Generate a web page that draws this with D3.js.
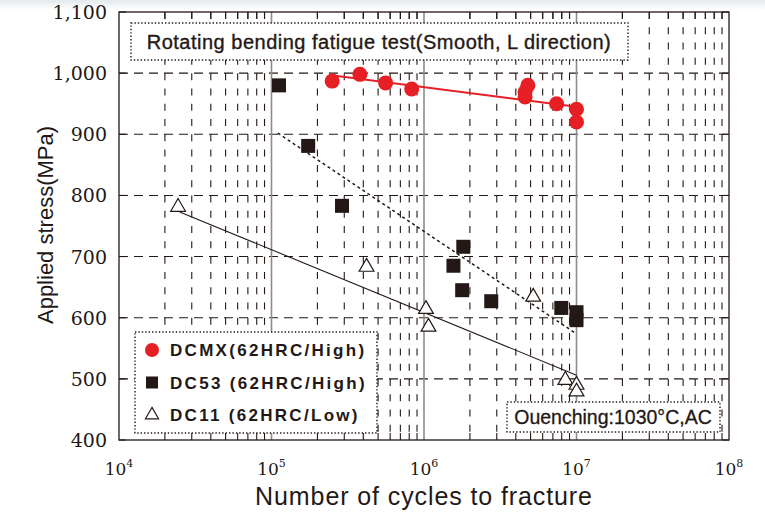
<!DOCTYPE html>
<html>
<head>
<meta charset="utf-8">
<script src="https://cdn.jsdelivr.net/npm/d3@7"></script>
<style>
  body { margin: 0; background: #fff; }
  svg { display: block; }
</style>
</head>
<body>
<div id="chart"></div>
<script>
// DCMX (red circles)
const dcmxCycles = [2.5e5, 3.8e5, 5.6e5, 8.3e5, 4.8e6, 4.6e6, 4.6e6, 7.4e6, 1e7, 1e7];
const dcmxStress = [987, 998, 984, 974, 980, 969, 961, 950, 941, 920];
// DC53 (black squares)
const dc53Cycles = [1.12e5, 1.74e5, 2.9e5, 1.81e6, 1.56e6, 1.78e6, 2.76e6, 7.95e6, 1e7, 1e7];
const dc53Stress = [980, 881, 783, 716, 685, 645, 627, 616, 609, 596];
// DC11 (open triangles)
const dc11Cycles = [2.44e4, 4.2e5, 1.03e6, 1.07e6, 5.2e6, 8.45e6, 1e7, 1e7];
const dc11Stress = [781, 683, 614, 585, 634, 498, 490, 479];

// fitted S-N lines, [cycles, stress] end points
const dcmxFit = [[2.4e5, 997], [1e7, 945]];
const dc53Fit = [[1.1e5, 902], [9.8e6, 575]];
const dc11Fit = [[2.5e4, 773], [1e7, 506]];

const yTicks = [400, 500, 600, 700, 800, 900, 1000, 1100];
const xDecades = [1e4, 1e5, 1e6, 1e7, 1e8];
const xExponents = ['4', '5', '6', '7', '8'];

const legendLabels = ['DCMX(62HRC/High)', 'DC53 (62HRC/High)', 'DC11 (62HRC/Low)'];
const titleText = 'Rotating bending fatigue test(Smooth, L direction)';
const noteText = 'Ouenching:1030°C,AC';

// style configs
const width = 765;
const height = 516;
const margin = { top: 12, right: 36, bottom: 76, left: 119 };
const ink = '#231815';
const red = '#e61f25';
const sans = '"Liberation Sans", Arial, sans-serif';
const serif = '"DejaVu Serif", serif';

const x = d3.scaleLog().domain([1e4, 1e8]).range([margin.left, width - margin.right]);
const y = d3.scaleLinear().domain([400, 1100]).range([height - margin.bottom, margin.top]);

// 2..9 inside every decade
const minors = xDecades.slice(0, -1).flatMap(d => d3.range(2, 10).map(k => d * k));

const svg = d3.select('#chart').append('svg')
  .attr('width', width)
  .attr('height', height);

// faint grey band at the very top of the scan
const grad = svg.append('defs').append('linearGradient')
  .attr('id', 'topband').attr('x1', 0).attr('x2', 0).attr('y1', 0).attr('y2', 1);
grad.append('stop').attr('offset', 0).attr('stop-color', '#e4e9ed');
grad.append('stop').attr('offset', 1).attr('stop-color', '#fff');
svg.append('rect').attr('width', width).attr('height', 10).attr('fill', 'url(#topband)');

// grid
const grid = svg.append('g');

grid.selectAll('.hgrid')
  .data(yTicks.slice(1, -1))
  .enter().append('line')
  .attr('x1', x(1e4)).attr('x2', x(1e8))
  .attr('y1', d => y(d)).attr('y2', d => y(d))
  .attr('stroke', ink)
  .attr('stroke-width', 1.1)
  .attr('stroke-dasharray', '9,6');

grid.selectAll('.vgrid')
  .data(minors)
  .enter().append('line')
  .attr('x1', d => x(d)).attr('x2', d => x(d))
  .attr('y1', y(1100)).attr('y2', y(400))
  .attr('stroke', ink)
  .attr('stroke-width', 1.1)
  .attr('stroke-dasharray', '7,8.29');

grid.selectAll('.decade')
  .data(xDecades.slice(1, -1))
  .enter().append('line')
  .attr('x1', d => x(d)).attr('x2', d => x(d))
  .attr('y1', y(1100)).attr('y2', y(400))
  .attr('stroke', '#8c8c8c')
  .attr('stroke-width', 1.6);

// dotted annotation boxes
const box = (bx, by, bw, bh) => svg.append('rect')
  .attr('x', bx).attr('y', by).attr('width', bw).attr('height', bh)
  .attr('fill', '#fff')
  .attr('stroke', ink)
  .attr('stroke-width', 1.4)
  .attr('stroke-dasharray', '1.4,2');

box(131, 23, 497, 37);
svg.append('text')
  .attr('x', 379).attr('y', 49)
  .attr('text-anchor', 'middle')
  .attr('font-family', sans)
  .attr('font-size', 20)
  .attr('letter-spacing', 0.5)
  .attr('fill', ink)
  .attr('stroke', ink)
  .attr('stroke-width', 0.35)
  .text(titleText);

// fit lines
const line = d3.line().x(d => x(d[0])).y(d => y(d[1]));

svg.append('path').attr('d', line(dcmxFit))
  .attr('fill', 'none').attr('stroke', red).attr('stroke-width', 2);
svg.append('path').attr('d', line(dc53Fit))
  .attr('fill', 'none').attr('stroke', ink).attr('stroke-width', 1.5)
  .attr('stroke-dasharray', '3,3');
svg.append('path').attr('d', line(dc11Fit))
  .attr('fill', 'none').attr('stroke', ink).attr('stroke-width', 1.1);

// markers
const tri = d3.symbol().type(d3.symbolTriangle).size(95);

svg.append('g').selectAll('path')
  .data(d3.zip(dc11Cycles, dc11Stress))
  .enter().append('path')
  .attr('d', tri)
  .attr('transform', d => `translate(${x(d[0])},${y(d[1])})`)
  .attr('fill', '#fff')
  .attr('stroke', ink)
  .attr('stroke-width', 1.2);

svg.append('g').selectAll('rect')
  .data(d3.zip(dc53Cycles, dc53Stress))
  .enter().append('rect')
  .attr('x', d => x(d[0]) - 7)
  .attr('y', d => y(d[1]) - 7)
  .attr('width', 14).attr('height', 14)
  .attr('fill', ink);

svg.append('g').selectAll('circle')
  .data(d3.zip(dcmxCycles, dcmxStress))
  .enter().append('circle')
  .attr('cx', d => x(d[0]))
  .attr('cy', d => y(d[1]))
  .attr('r', 7.5)
  .attr('fill', red);

// legend
box(135, 332, 242, 101);
const legend = svg.append('g').selectAll('g')
  .data(legendLabels)
  .enter().append('g')
  .attr('transform', (d, i) => `translate(152,${350 + i * 32.5})`);

legend.append('text')
  .attr('x', 18).attr('y', 6)
  .attr('font-family', sans)
  .attr('font-weight', 'bold')
  .attr('font-size', 17)
  .attr('letter-spacing', 2.3)
  .attr('fill', ink)
  .text(d => d);

legend.filter((d, i) => i === 0).append('circle')
  .attr('r', 7).attr('fill', red);
legend.filter((d, i) => i === 1).append('rect')
  .attr('x', -6).attr('y', -6).attr('width', 12).attr('height', 12).attr('fill', ink);
legend.filter((d, i) => i === 2).append('path')
  .attr('d', d3.symbol().type(d3.symbolTriangle).size(75))
  .attr('fill', '#fff').attr('stroke', ink).attr('stroke-width', 1.2);

// quenching note
box(507, 402, 213, 30);
svg.append('text')
  .attr('x', 613).attr('y', 424)
  .attr('text-anchor', 'middle')
  .attr('font-family', sans)
  .attr('font-size', 19.5)
  .attr('fill', ink)
  .attr('stroke', ink)
  .attr('stroke-width', 0.3)
  .text(noteText);

// frame and inward ticks
svg.append('rect')
  .attr('x', x(1e4)).attr('y', y(1100))
  .attr('width', x(1e8) - x(1e4)).attr('height', y(400) - y(1100))
  .attr('fill', 'none')
  .attr('stroke', ink)
  .attr('stroke-width', 1.3);

const ticks = svg.append('g').attr('stroke', ink).attr('stroke-width', 1.1);
ticks.selectAll('.tb').data(minors).enter().append('line')
  .attr('x1', d => x(d)).attr('x2', d => x(d))
  .attr('y1', y(400)).attr('y2', y(400) - 7);
ticks.selectAll('.tt').data(minors).enter().append('line')
  .attr('x1', d => x(d)).attr('x2', d => x(d))
  .attr('y1', y(1100)).attr('y2', y(1100) + 7);
ticks.selectAll('.tl').data(yTicks).enter().append('line')
  .attr('x1', x(1e4)).attr('x2', x(1e4) + 7)
  .attr('y1', d => y(d)).attr('y2', d => y(d));
ticks.selectAll('.tr').data(yTicks).enter().append('line')
  .attr('x1', x(1e8)).attr('x2', x(1e8) - 7)
  .attr('y1', d => y(d)).attr('y2', d => y(d));

// tick labels
svg.append('g').selectAll('text')
  .data(yTicks)
  .enter().append('text')
  .attr('x', 107)
  .attr('y', d => y(d) + 7)
  .attr('text-anchor', 'end')
  .attr('font-family', serif)
  .attr('font-size', 19)
  .attr('fill', ink)
  .text(d => d3.format(',')(d));

const xl = svg.append('g').selectAll('text')
  .data(xDecades)
  .enter().append('text')
  .attr('x', d => x(d))
  .attr('y', 475)
  .attr('text-anchor', 'middle')
  .attr('font-family', serif)
  .attr('font-size', 17)
  .attr('fill', ink);
xl.append('tspan').text('10');
xl.append('tspan')
  .attr('dy', -8)
  .attr('font-size', 11)
  .text((d, i) => xExponents[i]);

// axis titles
svg.append('text')
  .attr('x', 424).attr('y', 505)
  .attr('text-anchor', 'middle')
  .attr('font-family', sans)
  .attr('font-size', 25)
  .attr('letter-spacing', 0.9)
  .attr('fill', ink)
  .text('Number of cycles to fracture');

svg.append('text')
  .attr('transform', 'translate(53,225) rotate(-90)')
  .attr('text-anchor', 'middle')
  .attr('font-family', sans)
  .attr('font-size', 22)
  .attr('fill', ink)
  .text('Applied stress(MPa)');
</script>
</body>
</html>
